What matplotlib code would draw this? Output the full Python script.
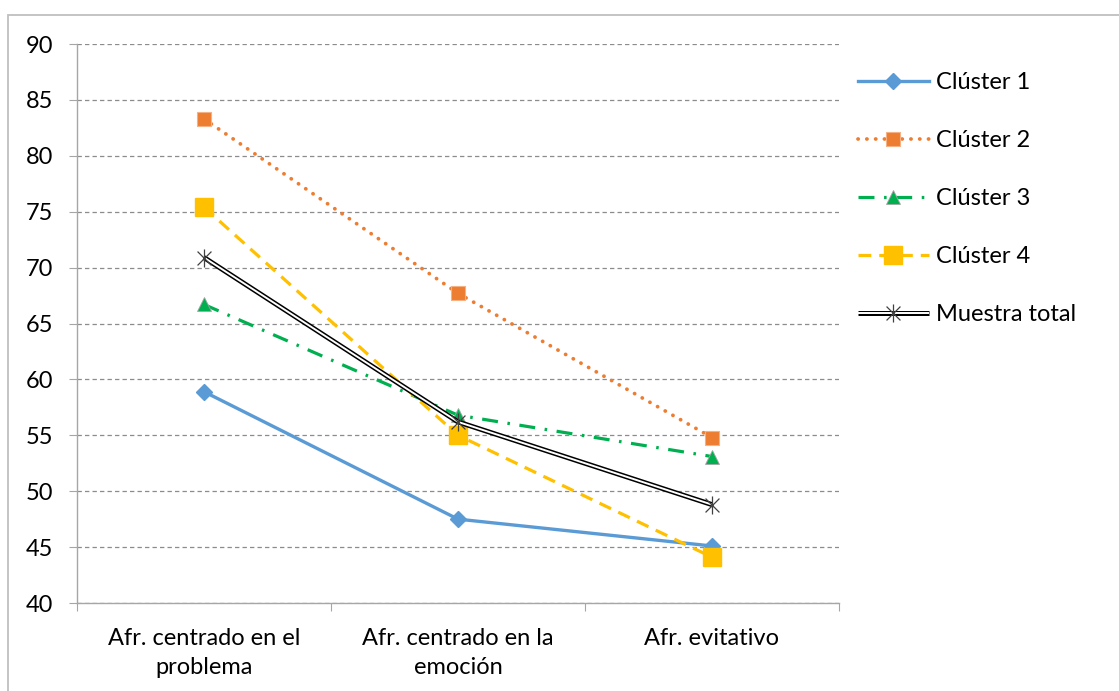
import matplotlib
matplotlib.use("Agg")
import matplotlib.pyplot as plt
from matplotlib.path import Path
from matplotlib.patches import Rectangle
from matplotlib.lines import Line2D
import numpy as np

plt.rcParams['font.family'] = ['Lato', 'DejaVu Sans']

categories = ["Afr. centrado en el\nproblema", "Afr. centrado en la\nemoción", "Afr. evitativo"]
cluster1 = [58.9, 47.5, 45.1]
cluster2 = [83.3, 67.7, 54.8]
cluster3 = [66.7, 56.8, 53.1]
cluster4 = [75.4, 55.0, 44.1]
total = [70.9, 56.2, 48.8]
yticks = [40, 45, 50, 55, 60, 65, 70, 75, 80, 85, 90]

FS = 17
W, H = 1119, 691
fig = plt.figure(figsize=(W / 100, H / 100), dpi=100)
fig.patch.set_facecolor("white")

# outer chart frame
fig.add_artist(Rectangle((8 / W, -0.05), 1.2, 1 - 15 / H + 0.05, transform=fig.transFigure,
                         fill=False, edgecolor="#BFBFBF", linewidth=1.3))

ax = fig.add_axes([77 / W, (H - 603) / H, 762 / W, (603 - 44) / H])
x = np.arange(len(categories))

# star marker: an X crossed by a vertical stroke
star = Path([(-1, -1), (1, 1), (-1, 1), (1, -1), (0, -1.3), (0, 1.3)],
            [Path.MOVETO, Path.LINETO, Path.MOVETO, Path.LINETO, Path.MOVETO, Path.LINETO])

s1 = dict(color="#5B9BD5", lw=2.4, marker="D", ms=8.5, mfc="#5B9BD5", mec="#5B9BD5")
s2 = dict(color="#ED7D31", lw=2.7, linestyle=(0, (0.05, 2.3)), dash_capstyle="round",
          marker="s", ms=10, mfc="#ED7D31", mec="#F4B183", mew=0.8)
s3 = dict(color="#00B050", lw=2.3, linestyle=(0, (5.0, 3.0, 0.8, 3.0)),
          marker="^", ms=10, mfc="#00B050", mec="#A5A5A5", mew=0.6)
s4 = dict(color="#FFC000", lw=2.3, linestyle=(0, (4.0, 2.5)),
          marker="s", ms=13.5, mfc="#FFC000", mec="#FFC000")
outer = dict(color="black", lw=3.6, solid_capstyle="butt")
inner = dict(color="white", lw=1.4, solid_capstyle="butt")
smark = dict(linestyle="none", marker=star, ms=13, mec="#404040", mew=0.9)

ax.plot(x, cluster1, zorder=3, **s1)
ax.plot(x, cluster2, zorder=3, **s2)
ax.plot(x, cluster3, zorder=3, **s3)
ax.plot(x, cluster4, zorder=3, **s4)
ax.plot(x, total, zorder=4, **outer)
ax.plot(x, total, zorder=4, **inner)
ax.plot(x, total, zorder=5, **smark)

ax.set_xlim(-0.5, len(categories) - 0.5)
ax.set_ylim(40, 90)
ax.set_yticks(yticks)
ax.set_yticklabels([str(v) for v in yticks])
ax.yaxis.grid(True, color="#8C8C8C", linestyle=(0, (3.5, 2.5)), linewidth=0.9)
ax.set_axisbelow(True)

ax.set_xticks(np.arange(len(categories) + 1) - 0.5)
ax.set_xticklabels([])
ax.set_xticks(x, minor=True)
ax.set_xticklabels(categories, minor=True, fontsize=FS, linespacing=1.5)
ax.tick_params(axis="x", which="minor", length=0, pad=18)
ax.tick_params(axis="x", which="major", length=6, color="#A6A6A6", direction="out")
ax.tick_params(axis="y", length=6, color="#A6A6A6", labelsize=FS, pad=11)

for s in ["top", "right"]:
    ax.spines[s].set_visible(False)
for s in ["left", "bottom"]:
    ax.spines[s].set_color("#A6A6A6")
    ax.spines[s].set_linewidth(1.0)

handles = [
    Line2D([], [], **s1),
    Line2D([], [], **s2),
    Line2D([], [], **s3),
    Line2D([], [], **s4),
    (Line2D([], [], **outer), Line2D([], [], **inner), Line2D([], [], **smark)),
]
labels = ["Clúster 1", "Clúster 2", "Clúster 3", "Clúster 4", "Muestra total"]
fig.legend(handles, labels, loc="upper left", bbox_to_anchor=(858 / W, 1 - 72 / H),
           frameon=False, fontsize=FS, handlelength=3.0, handletextpad=0.3,
           labelspacing=1.57, borderaxespad=0, borderpad=0)

fig.savefig("out.png", dpi=100)
